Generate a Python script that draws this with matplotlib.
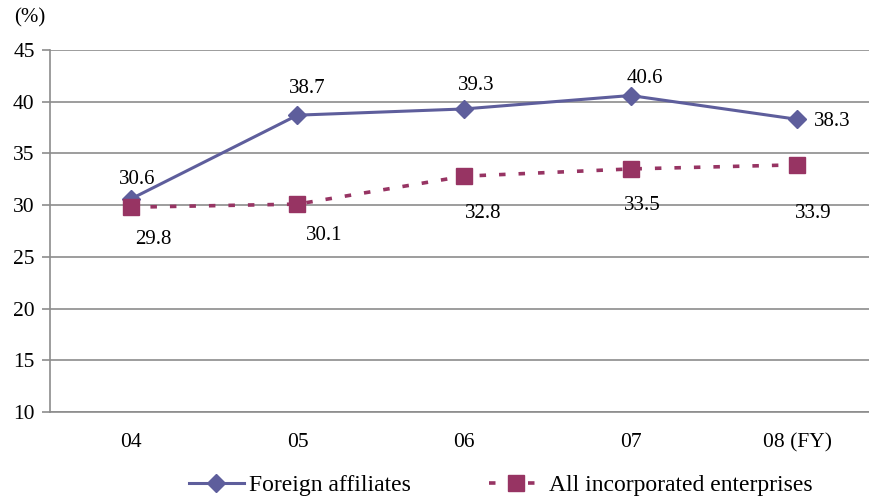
import matplotlib.pyplot as plt

plt.rcParams['font.family'] = ['Liberation Serif', 'DejaVu Serif']

years = ['04', '05', '06', '07', '08 (FY)']
foreign = [30.6, 38.7, 39.3, 40.6, 38.3]
all_inc = [29.8, 30.1, 32.8, 33.5, 33.9]

blue = '#5E5E9C'
maroon = '#973463'
grid = '#8C8C8C'

fig = plt.figure(figsize=(8.70, 5.01), dpi=100)
ax = fig.add_axes([50 / 870, 1 - 412 / 501, 820 / 870, 362 / 501])

x = range(len(years))
ax.plot(x, foreign, color=blue, lw=2.2, marker='D', ms=9, mfc=blue, mec=blue,
        label='Foreign affiliates', zorder=3)
ax.plot(x, all_inc, color=maroon, lw=2.6, ls=(0, (1.8, 3.6)), marker='s', ms=12,
        mfc=maroon, mec=maroon, label='All incorporated enterprises', zorder=3)

# value labels, offsets in pixels
f_off = [(6, 19), (10, 27), (12, 23), (14, 17), (35, -2)]
for i, v in enumerate(foreign):
    ax.annotate(f'{v}', (i, v), xytext=f_off[i], textcoords='offset pixels',
                ha='center', va='center', fontsize=15)
a_off = [(22, -32), (27, -31), (19, -37), (12, -37), (16, -49)]
for i, v in enumerate(all_inc):
    ax.annotate(f'{v}', (i, v), xytext=a_off[i], textcoords='offset pixels',
                ha='center', va='center', fontsize=15)

ax.set_xlim(-0.486, 4.438)
ax.set_ylim(10, 45)
ax.set_yticks(range(10, 46, 5))
ax.set_xticks(list(x))
ax.set_xticklabels(years)
ax.yaxis.grid(True, color=grid, lw=1.2)
ax.set_axisbelow(True)
for s in ['top', 'right']:
    ax.spines[s].set_visible(False)
for s in ['left', 'bottom']:
    ax.spines[s].set_color(grid)
    ax.spines[s].set_linewidth(1.2)
ax.tick_params(axis='y', length=6, color=grid, width=1.2, labelsize=15.5, pad=5)
ax.tick_params(axis='x', length=0, labelsize=15.5, pad=15)

fig.text(30 / 870, 1 - 18 / 501, '(%)', ha='center', va='center', fontsize=15)

fig.legend(loc='center', bbox_to_anchor=(0.576, 1 - 485 / 501), ncol=2,
           frameon=False, fontsize=17, handlelength=2.3, columnspacing=3.3,
           handletextpad=0.25)

fig.savefig('out.png', dpi=100)
